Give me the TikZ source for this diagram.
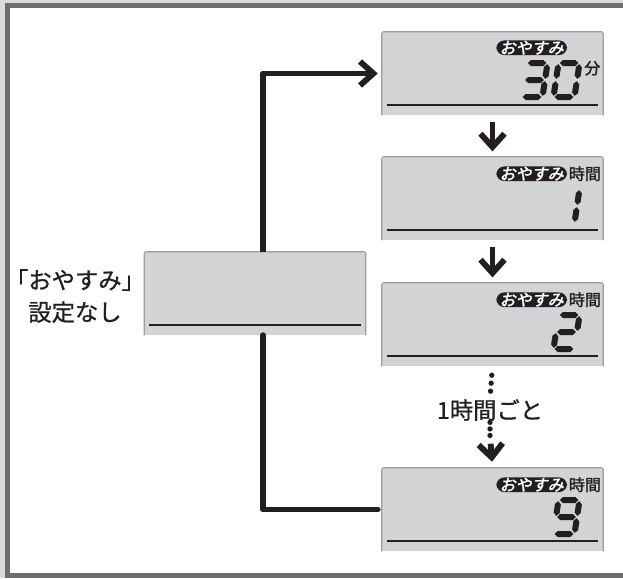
\documentclass[tikz,border=0pt]{standalone}
\usepackage{fontspec}
\usetikzlibrary{arrows.meta, positioning, calc}
\newfontfamily\jp[FakeBold=0.8]{Noto Sans CJK JP}
\newfontfamily\jplcd[FakeSlant=0.2, FakeBold=2]{Noto Sans CJK JP}
\newfontfamily\jpunit[FakeBold=1.6]{Noto Sans CJK JP}
\definecolor{ink}{HTML}{231F20}
\definecolor{lcdgray}{HTML}{D2D3D5}
\definecolor{lcdrim}{HTML}{9C9DA0}
\definecolor{framedark}{HTML}{6D6E71}
\definecolor{framelight}{HTML}{DADBDC}
\newcommand{\lcdbox}[3]{%
  \node[lcd] (#1) at (#2,#3) {};
  \draw[lcdedge] (#1.south west) -- (#1.north west) -- (#1.north east) -- (#1.south east);
  \draw[lcdline] ([shift={(5,-10)}]#1.south west) -- ([shift={(-5,-10)}]#1.south east);}
% one 7-segment digit: top left corner, list of corner pairs
\newcommand{\lcddigit}[3]{%
  \begin{scope}[shift={(#1,#2)}, xslant=0.15]
    \coordinate (tl) at (3,3);  \coordinate (tr) at (24,3);
    \coordinate (ml) at (3,20); \coordinate (mr) at (24,20);
    \coordinate (bl) at (3,37); \coordinate (br) at (24,37);
  \end{scope}
  \foreach \p/\q in {#3}
    \fill[ink] ($(\p)!0.9pt!(\q)$) -- ($(\p)!3.15pt!(\q)!2.25pt!90:(\q)$)
      -- ($(\q)!3.15pt!(\p)!2.25pt!-90:(\p)$) -- ($(\q)!0.9pt!(\p)$)
      -- ($(\q)!3.15pt!(\p)!2.25pt!90:(\p)$) -- ($(\p)!3.15pt!(\q)!2.25pt!-90:(\q)$) -- cycle;}

\begin{document}
\begin{tikzpicture}[x=0.75pt, y=-0.75pt,
    lcd/.style={fill=lcdgray, minimum width=165.75pt, minimum height=62.25pt, inner sep=0pt},
    lcdedge/.style={draw=lcdrim, line width=0.8pt, rounded corners=1.5pt},
    lcdline/.style={draw=ink, line width=1.8pt},
    tag/.style={fill=ink, text=white, rounded corners=6pt, inner xsep=2.5pt, inner ysep=0.3pt,
                font=\jplcd\fontsize{12}{12}\selectfont},
    unit/.style={text=ink, inner sep=0pt, font=\jpunit\fontsize{12}{12}\selectfont},
    flow/.style={draw=ink, line width=4.4pt, line join=round},
    barb/.style={-{Straight Barb[length=10pt, width=18pt]}},
    dotrun/.style={draw=ink, line width=4pt, line cap=round, dash pattern=on 0pt off 6pt},
    say/.style={text=ink, align=center, inner sep=1pt, font=\jp\fontsize{17.5}{24}\selectfont}]
  \useasboundingbox (0,0) rectangle (623,578);
  % frame
  \fill[framelight] (0,0) rectangle (623,578);
  \fill[white] (10,8) rectangle (623,573);
  \draw[framedark, line width=3.75pt] (640,5.5) -- (7.5,5.5) -- (7.5,575.5) -- (640,575.5);

  % displays
  \lcdbox{off}{255}{293.5}
  \lcdbox{d1}{492.5}{73.5}
  \lcdbox{d2}{492.5}{198.5}
  \lcdbox{d3}{492.5}{324.5}
  \lcdbox{d4}{492.5}{509.5}

  \node[say] (none) at (75,296) {「おやすみ」\\設定なし};

  \node[tag, anchor=east] (t1) at ([shift={(-36,16)}]d1.north east) {おやすみ};
  \node[unit] (u1) at ([shift={(-11,36.5)}]d1.north east) {分};
  \node[tag, anchor=east] (t2) at ([shift={(-36,17)}]d2.north east) {おやすみ};
  \node[unit, right=1pt of t2] (u2) {時間};
  \node[tag, anchor=east] (t3) at ([shift={(-36,17)}]d3.north east) {おやすみ};
  \node[unit, right=1pt of t3] (u3) {時間};
  \node[tag, anchor=east] (t4) at ([shift={(-36,17)}]d4.north east) {おやすみ};
  \node[unit, right=1pt of t4] (u4) {時間};

  % digits
  \lcddigit{524}{60}{tl/tr, tr/mr, mr/br, bl/br, ml/mr}
  \lcddigit{556}{60}{tl/tr, tr/mr, mr/br, bl/br, ml/bl, tl/ml}
  \lcddigit{556}{186}{tr/mr, mr/br}
  \lcddigit{556}{312}{tl/tr, tr/mr, ml/mr, ml/bl, bl/br}
  \lcddigit{556}{497}{tl/tr, tr/mr, mr/br, bl/br, tl/ml, ml/mr}

  % connectors
  \coordinate (up) at ([xshift=6pt]off.north);
  \coordinate (down) at ([xshift=6pt]off.south);
  \draw[flow, barb, shorten >=3pt] (up) |- (d1.west);
  \draw[flow, line cap=round, shorten >=3pt] (down) |- (d4.west);
  \draw[flow, barb, shorten <=5pt, shorten >=4pt] (d1.south) -- (d2.north);
  \draw[flow, barb, shorten <=5pt, shorten >=4pt] (d2.south) -- (d3.north);

  \node[say] (every) at (490,410) {1時間ごと};
  \draw[dotrun, shorten <=6.75pt] (d3.south) -- (every.north);
  \coordinate (gap) at ([yshift=-10pt]every.south);
  \draw[dotrun, dash pattern=on 0pt off 4.9pt] (every.south) -- (gap);
  \draw[flow, barb, shorten <=6pt, shorten >=4.5pt] (gap) -- (d4.north);
\end{tikzpicture}
\end{document}
